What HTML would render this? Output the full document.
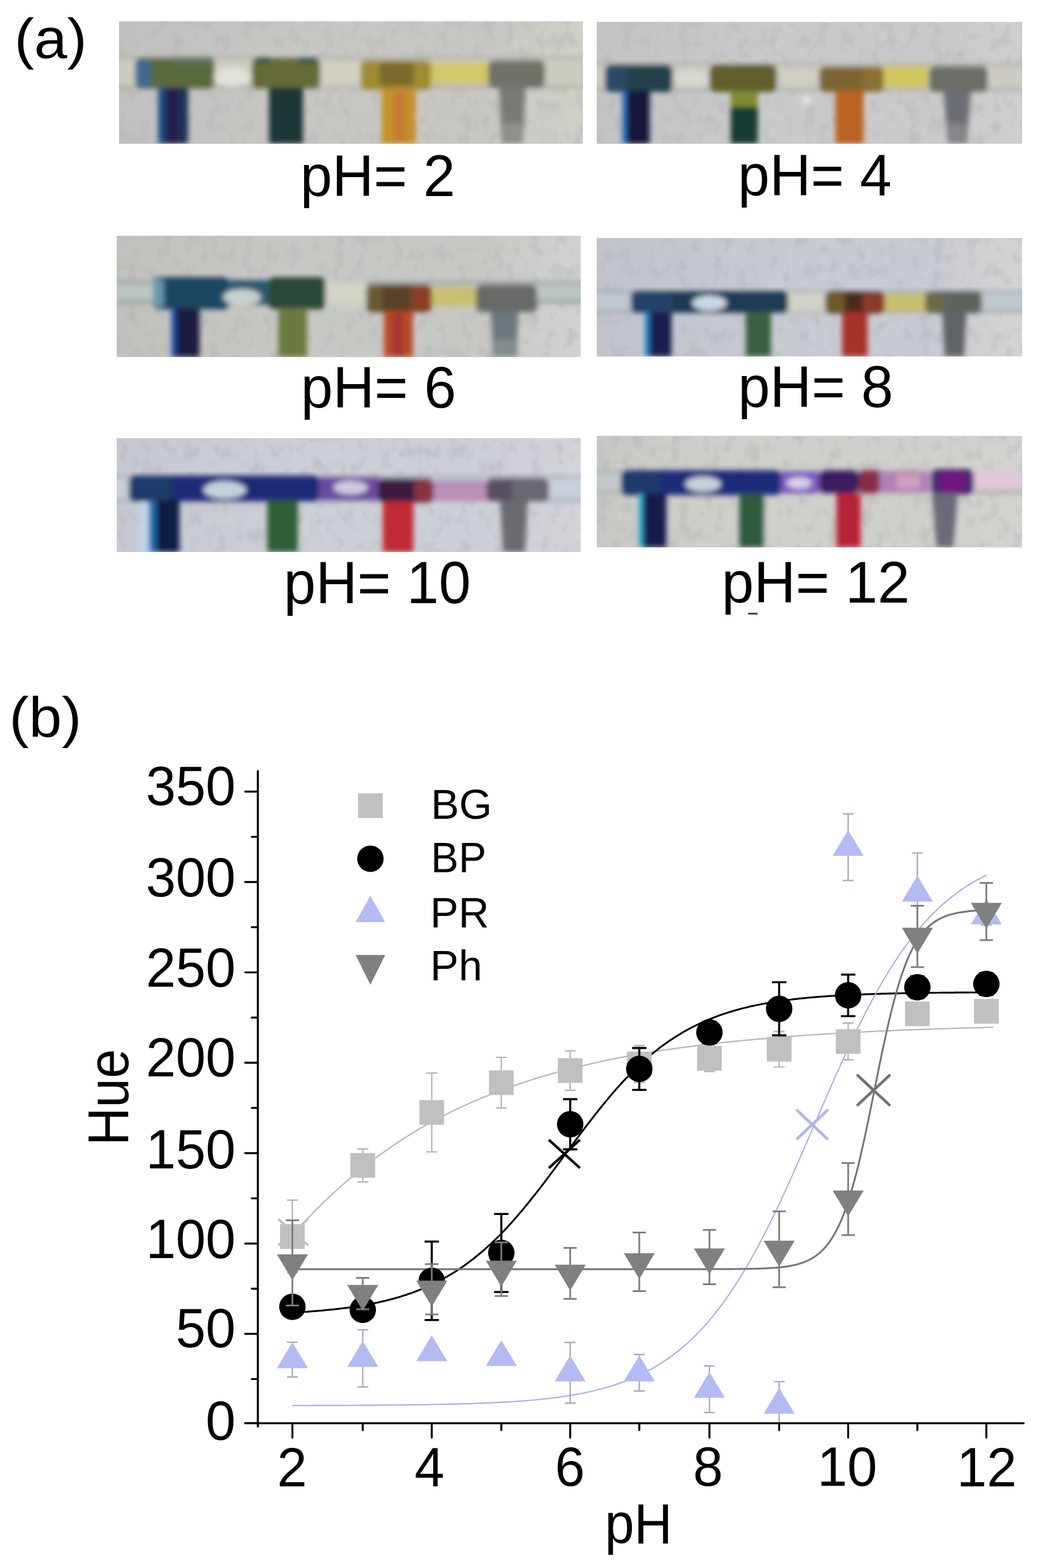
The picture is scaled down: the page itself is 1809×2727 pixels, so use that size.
<!DOCTYPE html>
<html><head><meta charset="utf-8"><title>Hue vs pH</title>
<style>html,body{margin:0;padding:0;background:#fff;}body{width:1809px;height:2727px;overflow:hidden;}svg{display:block;}</style>
</head><body>
<svg width="1809" height="2727" viewBox="0 0 1809 2727">
<defs>
<filter id="blur" x="-5%" y="-5%" width="110%" height="110%"><feGaussianBlur stdDeviation="5"/></filter>
<filter id="noise" x="0" y="0" width="100%" height="100%">
 <feTurbulence type="fractalNoise" baseFrequency="0.05 0.035" numOctaves="3" seed="11" result="t"/>
 <feColorMatrix in="t" type="matrix" values="0 0 0 0 0.42  0 0 0 0 0.42  0 0 0 0 0.44  3.2 0 0 0 -1.55"/>
 <feGaussianBlur stdDeviation="1.2"/>
</filter>
</defs>
<rect width="1809" height="2727" fill="#fff"/>
<clipPath id="pc0"><rect x="207" y="37" width="807" height="213"/></clipPath>
<g clip-path="url(#pc0)">
<linearGradient id="bgg0" x1="0" x2="1" y1="0" y2="0"><stop offset="0" stop-color="#c1c0bf"/><stop offset="0.4" stop-color="#c9c7c3"/><stop offset="0.8" stop-color="#c9c7c3"/><stop offset="1" stop-color="#cfd0c8"/></linearGradient>
<rect x="207" y="37" width="807" height="213" fill="url(#bgg0)"/>
<rect x="207" y="37" width="807" height="213" filter="url(#noise)" opacity="0.35"/>
<g filter="url(#blur)">
<rect x="197" y="101" width="827" height="50" fill="#ccccc2"/>
<rect x="197" y="99" width="827" height="4" fill="#a4a49a" opacity="0.8"/>
<rect x="197" y="149" width="827" height="4" fill="#a4a49a"/>
<rect x="235" y="101" width="138" height="53" rx="10" fill="#5a6a3c"/>
<rect x="235" y="104" width="27" height="48" rx="8" fill="#3d6a8e"/>
<rect x="300" y="100" width="72" height="12" rx="4" fill="#5a7058"/>
<ellipse cx="404" cy="134" rx="32" ry="17" fill="#e2e1da"/>
<rect x="438" y="101" width="119" height="53" rx="10" fill="#656b38"/>
<rect x="445" y="100" width="25" height="10" rx="3" fill="#35554f"/>
<rect x="520" y="100" width="32" height="10" rx="3" fill="#35554f"/>
<rect x="557" y="110" width="77" height="40" rx="0" fill="#d3d0c2"/>
<rect x="627" y="105" width="123" height="51" rx="10" fill="#a08a30"/>
<rect x="660" y="108" width="60" height="42" rx="8" fill="#7c6a2c"/>
<rect x="750" y="108" width="99" height="38" rx="0" fill="#d2c86a"/>
<rect x="849" y="105" width="99" height="48" rx="10" fill="#70726a"/>
<polygon points="275,152 327,152 327,250 275,250" fill="#1c3252"/>
<rect x="275" y="152" width="10" height="98" rx="0" fill="#1c4f8c"/>
<rect x="292" y="152" width="18" height="98" rx="0" fill="#281f50"/>
<polygon points="468,152 527,152 527,250 468,250" fill="#1a3434"/>
<polygon points="664,154 723,154 723,250 664,250" fill="#c4922a"/>
<rect x="685" y="160" width="20" height="85" rx="0" fill="#c47a30"/>
<polygon points="868,152 914,152 909,250 873,250" fill="#787a76"/>
<rect x="874" y="215" width="34" height="35" rx="0" fill="#8e908c"/>
</g></g>
<clipPath id="pc1"><rect x="1038" y="38" width="740" height="212"/></clipPath>
<g clip-path="url(#pc1)">
<linearGradient id="bgg1" x1="0" x2="1" y1="0" y2="0"><stop offset="0" stop-color="#c4c3c6"/><stop offset="0.4" stop-color="#cacacd"/><stop offset="0.8" stop-color="#cacacd"/><stop offset="1" stop-color="#cfcfcf"/></linearGradient>
<rect x="1038" y="38" width="740" height="212" fill="url(#bgg1)"/>
<rect x="1038" y="38" width="740" height="212" filter="url(#noise)" opacity="0.35"/>
<g filter="url(#blur)">
<rect x="1028" y="112" width="760" height="44" fill="#cdcbc4"/>
<rect x="1028" y="110" width="760" height="4" fill="#a8a69c" opacity="0.8"/>
<rect x="1028" y="154" width="760" height="4" fill="#a8a69c"/>
<rect x="1052" y="113" width="118" height="47" rx="10" fill="#223f48"/>
<rect x="1052" y="116" width="38" height="42" rx="8" fill="#2a4a66"/>
<ellipse cx="1202" cy="137" rx="30" ry="15" fill="#d8d8d0"/>
<rect x="1234" y="113" width="117" height="47" rx="10" fill="#625d2a"/>
<ellipse cx="1387" cy="137" rx="31" ry="15" fill="#d0cfc0"/>
<ellipse cx="1403" cy="174" rx="8" ry="7" fill="#e8e8e4"/>
<rect x="1425" y="116" width="112" height="44" rx="10" fill="#7a6530"/>
<rect x="1500" y="116" width="37" height="44" rx="8" fill="#8a7030"/>
<rect x="1537" y="115" width="77" height="37" rx="0" fill="#cfc660"/>
<rect x="1616" y="115" width="102" height="45" rx="10" fill="#6c6e68"/>
<polygon points="1082,158 1130,158 1130,250 1082,250" fill="#15183a"/>
<rect x="1082" y="158" width="8" height="92" rx="0" fill="#2a70c0"/>
<polygon points="1271,158 1318,158 1318,250 1271,250" fill="#173a32"/>
<rect x="1271" y="158" width="47" height="28" rx="0" fill="#7e8a32"/>
<polygon points="1453,158 1502,158 1502,250 1453,250" fill="#bb6420"/>
<polygon points="1641,158 1689,158 1681,250 1649,250" fill="#6c6e74"/>
<rect x="1650" y="215" width="30" height="35" rx="0" fill="#84868a"/>
</g></g>
<clipPath id="pc2"><rect x="203" y="410" width="807" height="211"/></clipPath>
<g clip-path="url(#pc2)">
<linearGradient id="bgg2" x1="0" x2="1" y1="0" y2="0"><stop offset="0" stop-color="#c0c0bc"/><stop offset="0.4" stop-color="#c8c9c5"/><stop offset="0.8" stop-color="#c8c9c5"/><stop offset="1" stop-color="#d0d3d0"/></linearGradient>
<rect x="203" y="410" width="807" height="211" fill="url(#bgg2)"/>
<rect x="203" y="410" width="807" height="211" filter="url(#noise)" opacity="0.35"/>
<g filter="url(#blur)">
<rect x="193" y="491" width="827" height="34" fill="#bcc4c4"/>
<rect x="193" y="489" width="827" height="4" fill="#8c908a" opacity="0.8"/>
<rect x="193" y="523" width="827" height="4" fill="#8c908a"/>
<rect x="266" y="482" width="133" height="56" rx="10" fill="#1e4660"/>
<rect x="266" y="486" width="19" height="48" rx="6" fill="#6a98b0"/>
<rect x="395" y="487" width="73" height="43" rx="0" fill="#2a5a70"/>
<ellipse cx="421" cy="517" rx="33" ry="14" fill="#c8d0d0"/>
<rect x="467" y="482" width="99" height="56" rx="10" fill="#2a4a38"/>
<rect x="566" y="490" width="71" height="40" rx="0" fill="#d2d4c8"/>
<rect x="637" y="495" width="114" height="48" rx="10" fill="#5a4028"/>
<rect x="637" y="497" width="28" height="44" rx="8" fill="#6a5a30"/>
<rect x="715" y="497" width="36" height="44" rx="8" fill="#8a4028"/>
<rect x="751" y="498" width="77" height="34" rx="0" fill="#c8c070"/>
<rect x="828" y="495" width="106" height="48" rx="10" fill="#676a68"/>
<polygon points="298,536 347,536 347,621 298,621" fill="#1c1a40"/>
<rect x="298" y="536" width="8" height="85" rx="0" fill="#2050b0"/>
<polygon points="484,536 534,536 534,621 484,621" fill="#6a7a40"/>
<polygon points="668,541 718,541 718,621 668,621" fill="#b84828"/>
<rect x="685" y="545" width="15" height="76" rx="0" fill="#a03030"/>
<polygon points="854,541 902,541 898,621 858,621" fill="#6c767c"/>
<rect x="860" y="590" width="36" height="31" rx="0" fill="#848c90"/>
</g></g>
<clipPath id="pc3"><rect x="1038" y="414" width="740" height="206"/></clipPath>
<g clip-path="url(#pc3)">
<linearGradient id="bgg3" x1="0" x2="1" y1="0" y2="0"><stop offset="0" stop-color="#c2c4cc"/><stop offset="0.4" stop-color="#c9cbd3"/><stop offset="0.8" stop-color="#c9cbd3"/><stop offset="1" stop-color="#d4d6d4"/></linearGradient>
<rect x="1038" y="414" width="740" height="206" fill="url(#bgg3)"/>
<rect x="1038" y="414" width="740" height="206" filter="url(#noise)" opacity="0.35"/>
<g filter="url(#blur)">
<rect x="1028" y="507" width="760" height="35" fill="#c0c8d0"/>
<rect x="1028" y="505" width="760" height="4" fill="#9a9ea4" opacity="0.8"/>
<rect x="1028" y="540" width="760" height="4" fill="#9a9ea4"/>
<rect x="1097" y="506" width="274" height="38" rx="10" fill="#1a3a55"/>
<rect x="1097" y="506" width="73" height="38" rx="10" fill="#22436a"/>
<ellipse cx="1234" cy="527" rx="30" ry="13" fill="#c8d8e4"/>
<rect x="1371" y="508" width="64" height="34" rx="0" fill="#d2d2c6"/>
<rect x="1435" y="507" width="104" height="38" rx="10" fill="#4a2a1a"/>
<rect x="1435" y="509" width="35" height="34" rx="8" fill="#6a5a2a"/>
<rect x="1500" y="509" width="39" height="34" rx="8" fill="#8a3a2a"/>
<rect x="1539" y="510" width="70" height="32" rx="0" fill="#c8c070"/>
<rect x="1609" y="507" width="99" height="38" rx="10" fill="#5e6460"/>
<rect x="1609" y="509" width="31" height="34" rx="8" fill="#6a6a48"/>
<polygon points="1122,543 1168,543 1168,620 1122,620" fill="#1a1a50"/>
<rect x="1122" y="543" width="8" height="77" rx="0" fill="#2080c0"/>
<polygon points="1297,543 1341,543 1341,620 1297,620" fill="#3a6040"/>
<polygon points="1465,543 1509,543 1509,620 1465,620" fill="#a8302a"/>
<polygon points="1639,543 1681,543 1677,620 1643,620" fill="#606468"/>
</g></g>
<clipPath id="pc4"><rect x="203" y="762" width="807" height="198"/></clipPath>
<g clip-path="url(#pc4)">
<linearGradient id="bgg4" x1="0" x2="1" y1="0" y2="0"><stop offset="0" stop-color="#c6c9d2"/><stop offset="0.4" stop-color="#cdcfd7"/><stop offset="0.8" stop-color="#cdcfd7"/><stop offset="1" stop-color="#d4d4da"/></linearGradient>
<rect x="203" y="762" width="807" height="198" fill="url(#bgg4)"/>
<rect x="203" y="762" width="807" height="198" filter="url(#noise)" opacity="0.35"/>
<g filter="url(#blur)">
<rect x="193" y="829" width="827" height="41" fill="#c8d0da"/>
<rect x="193" y="827" width="827" height="4" fill="#9ea2aa" opacity="0.8"/>
<rect x="193" y="868" width="827" height="4" fill="#9ea2aa"/>
<rect x="224" y="827" width="332" height="45" rx="10" fill="#1a2a78"/>
<rect x="224" y="829" width="76" height="41" rx="10" fill="#1a3a6a"/>
<ellipse cx="391" cy="852" rx="37" ry="15" fill="#c8d0e0"/>
<rect x="555" y="830" width="106" height="40" rx="0" fill="#6a4aa0"/>
<ellipse cx="610" cy="848" rx="30" ry="12" fill="#d0c8e0"/>
<rect x="658" y="832" width="96" height="42" rx="10" fill="#3a1a40"/>
<rect x="720" y="834" width="34" height="38" rx="8" fill="#8a3040"/>
<rect x="754" y="835" width="92" height="36" rx="0" fill="#b890b8"/>
<rect x="846" y="832" width="109" height="40" rx="10" fill="#5a5060"/>
<rect x="890" y="834" width="65" height="36" rx="8" fill="#6a6870"/>
<polygon points="259,870 312,870 312,960 259,960" fill="#101a40"/>
<rect x="259" y="870" width="13" height="90" rx="0" fill="#1a6ab0"/>
<rect x="242" y="875" width="16" height="85" rx="0" fill="#c2d4ea"/>
<polygon points="465,870 518,870 518,960 465,960" fill="#2e5e34"/>
<polygon points="666,872 719,872 719,960 666,960" fill="#c02c30"/>
<polygon points="870,870 918,870 913,960 875,960" fill="#6a6a70"/>
</g></g>
<clipPath id="pc5"><rect x="1038" y="758" width="740" height="194"/></clipPath>
<g clip-path="url(#pc5)">
<linearGradient id="bgg5" x1="0" x2="1" y1="0" y2="0"><stop offset="0" stop-color="#c9c9c6"/><stop offset="0.4" stop-color="#cfcfcb"/><stop offset="0.8" stop-color="#cfcfcb"/><stop offset="1" stop-color="#d4d4d0"/></linearGradient>
<rect x="1038" y="758" width="740" height="194" fill="url(#bgg5)"/>
<rect x="1038" y="758" width="740" height="194" filter="url(#noise)" opacity="0.35"/>
<g filter="url(#blur)">
<rect x="1028" y="821" width="760" height="35" fill="#c4cacc"/>
<rect x="1028" y="819" width="760" height="4" fill="#a0a4a4" opacity="0.8"/>
<rect x="1028" y="854" width="760" height="4" fill="#a0a4a4"/>
<rect x="1080" y="818" width="279" height="43" rx="10" fill="#1a2a7a"/>
<rect x="1080" y="820" width="70" height="39" rx="10" fill="#1a3a6a"/>
<ellipse cx="1223" cy="842" rx="31" ry="13" fill="#c8d0d8"/>
<rect x="1358" y="820" width="67" height="38" rx="0" fill="#7a58c0"/>
<ellipse cx="1390" cy="840" rx="22" ry="10" fill="#d8d0e8"/>
<rect x="1425" y="818" width="69" height="40" rx="10" fill="#3a1a60"/>
<rect x="1494" y="818" width="36" height="40" rx="6" fill="#8a2a4a"/>
<rect x="1530" y="820" width="87" height="36" rx="0" fill="#b080b8"/>
<rect x="1560" y="826" width="40" height="24" rx="0" fill="#d0a0c0"/>
<rect x="1619" y="816" width="75" height="44" rx="12" fill="#4a2a70"/>
<ellipse cx="1656" cy="838" rx="26" ry="19" fill="#701880"/>
<rect x="1694" y="817" width="84" height="33" rx="0" fill="#e0c8d8"/>
<polygon points="1112,858 1159,858 1159,952 1112,952" fill="#121a48"/>
<rect x="1112" y="858" width="7" height="94" rx="0" fill="#20a0c8"/>
<polygon points="1286,858 1328,858 1328,952 1286,952" fill="#2e5a3e"/>
<polygon points="1455,858 1497,858 1497,952 1455,952" fill="#b82434"/>
<polygon points="1621,858 1666,858 1658,952 1629,952" fill="#6a6a78"/>
</g></g>
<text font-family="Liberation Sans, Arial, sans-serif" font-size="102.33" transform="translate(522.16,340.60) scale(0.9771,1)" >pH= 2</text>
<text font-family="Liberation Sans, Arial, sans-serif" font-size="101.60" transform="translate(1283.61,340.40) scale(0.9757,1)" >pH= 4</text>
<text font-family="Liberation Sans, Arial, sans-serif" font-size="102.91" transform="translate(523.14,708.70) scale(0.9740,1)" >pH= 6</text>
<text font-family="Liberation Sans, Arial, sans-serif" font-size="102.04" transform="translate(1283.65,708.40) scale(0.9814,1)" >pH= 8</text>
<text font-family="Liberation Sans, Arial, sans-serif" font-size="103.20" transform="translate(493.55,1049.00) scale(0.9693,1)" >pH= 10</text>
<text font-family="Liberation Sans, Arial, sans-serif" font-size="102.47" transform="translate(1255.32,1048.40) scale(0.9819,1)" >pH= 12</text>
<text font-family="Liberation Sans, Arial, sans-serif" font-size="97.89" transform="translate(24.89,100.53) scale(1.0558,1)" >(a)</text>
<rect x="1301" y="1065.8" width="17" height="3" rx="1.5" fill="#333"/>
<text font-family="Liberation Sans, Arial, sans-serif" font-size="98.54" transform="translate(15.91,1281.00) scale(1.0461,1)" >(b)</text>
<polyline points="508.6,2148.4 511.7,2144.8 514.8,2141.4 517.9,2137.9 521.0,2134.5 524.1,2131.1 527.2,2127.7 530.3,2124.4 533.4,2121.1 536.5,2117.8 539.6,2114.5 542.7,2111.3 545.8,2108.1 548.9,2105.0 552.0,2101.9 555.1,2098.8 558.2,2095.7 561.3,2092.7 564.4,2089.7 567.5,2086.7 570.6,2083.7 573.7,2080.8 576.8,2077.9 579.9,2075.0 583.0,2072.2 586.1,2069.4 589.2,2066.6 592.3,2063.8 595.4,2061.1 598.5,2058.4 601.6,2055.7 604.6,2053.1 607.7,2050.4 610.8,2047.8 613.9,2045.2 617.0,2042.7 620.1,2040.1 623.2,2037.6 626.3,2035.1 629.4,2032.7 632.5,2030.2 635.5,2027.8 638.6,2025.4 641.6,2023.1 644.7,2020.7 647.7,2018.4 650.7,2016.1 653.8,2013.8 656.8,2011.5 659.8,2009.3 662.9,2007.1 665.9,2004.9 669.0,2002.7 672.0,2000.5 675.0,1998.4 678.1,1996.3 681.1,1994.2 684.1,1992.1 687.2,1990.1 690.2,1988.0 693.3,1986.0 696.3,1984.0 699.3,1982.0 702.4,1980.1 705.4,1978.1 708.4,1976.2 711.5,1974.3 714.5,1972.4 717.6,1970.6 720.6,1968.7 723.6,1966.9 726.7,1965.1 729.7,1963.3 732.7,1961.5 735.8,1959.7 738.8,1958.0 741.9,1956.3 744.9,1954.5 747.9,1952.9 751.0,1951.2 754.0,1949.5 757.1,1947.9 760.2,1946.2 763.2,1944.6 766.3,1943.0 769.3,1941.4 772.4,1939.9 775.5,1938.3 778.5,1936.8 781.6,1935.2 784.7,1933.7 787.7,1932.2 790.8,1930.7 793.9,1929.3 796.9,1927.8 800.0,1926.4 803.0,1925.0 806.1,1923.5 809.2,1922.1 812.2,1920.8 815.3,1919.4 818.4,1918.0 821.4,1916.7 824.5,1915.3 827.5,1914.0 830.6,1912.7 833.7,1911.4 836.7,1910.1 839.8,1908.9 842.9,1907.6 845.9,1906.4 849.0,1905.1 852.0,1903.9 855.1,1902.7 858.2,1901.5 861.2,1900.3 864.3,1899.1 867.4,1898.0 870.4,1896.8 873.5,1895.7 876.5,1894.6 879.5,1893.4 882.6,1892.3 885.6,1891.2 888.6,1890.1 891.7,1889.1 894.7,1888.0 897.7,1886.9 900.8,1885.9 903.8,1884.9 906.8,1883.8 909.9,1882.8 912.9,1881.8 915.9,1880.8 919.0,1879.8 922.0,1878.8 925.0,1877.9 928.1,1876.9 931.1,1876.0 934.1,1875.0 937.2,1874.1 940.2,1873.2 943.2,1872.3 946.3,1871.3 949.3,1870.5 952.3,1869.6 955.3,1868.7 958.4,1867.8 961.4,1867.0 964.4,1866.1 967.5,1865.3 970.5,1864.4 973.5,1863.6 976.6,1862.8 979.6,1862.0 982.6,1861.1 985.7,1860.3 988.7,1859.6 991.7,1858.8 994.8,1858.0 997.8,1857.2 1000.9,1856.5 1003.9,1855.7 1007.0,1855.0 1010.0,1854.2 1013.0,1853.5 1016.1,1852.8 1019.1,1852.1 1022.2,1851.4 1025.2,1850.7 1028.3,1850.0 1031.3,1849.3 1034.3,1848.6 1037.4,1847.9 1040.4,1847.2 1043.5,1846.6 1046.5,1845.9 1049.6,1845.3 1052.6,1844.6 1055.6,1844.0 1058.7,1843.4 1061.7,1842.7 1064.8,1842.1 1067.8,1841.5 1070.8,1840.9 1073.9,1840.3 1076.9,1839.7 1080.0,1839.1 1083.0,1838.5 1086.1,1837.9 1089.1,1837.4 1092.1,1836.8 1095.2,1836.2 1098.2,1835.7 1101.3,1835.1 1104.3,1834.6 1107.4,1834.0 1110.4,1833.5 1113.5,1833.0 1116.6,1832.5 1119.6,1831.9 1122.7,1831.4 1125.8,1830.9 1128.9,1830.4 1132.0,1829.9 1135.1,1829.4 1138.2,1828.9 1141.3,1828.4 1144.3,1828.0 1147.4,1827.5 1150.5,1827.0 1153.6,1826.5 1156.7,1826.1 1159.8,1825.6 1162.9,1825.2 1166.0,1824.7 1169.1,1824.3 1172.1,1823.8 1175.2,1823.4 1178.3,1823.0 1181.4,1822.5 1184.5,1822.1 1187.6,1821.7 1190.7,1821.3 1193.8,1820.9 1196.8,1820.5 1199.9,1820.1 1203.0,1819.7 1206.1,1819.3 1209.2,1818.9 1212.3,1818.5 1215.4,1818.1 1218.5,1817.7 1221.6,1817.3 1224.6,1817.0 1227.7,1816.6 1230.8,1816.2 1233.9,1815.9 1237.0,1815.5 1240.0,1815.2 1243.1,1814.8 1246.2,1814.5 1249.3,1814.1 1252.3,1813.8 1255.4,1813.4 1258.5,1813.1 1261.5,1812.8 1264.6,1812.4 1267.7,1812.1 1270.8,1811.8 1273.8,1811.5 1276.9,1811.2 1280.0,1810.8 1283.0,1810.5 1286.1,1810.2 1289.2,1809.9 1292.2,1809.6 1295.3,1809.3 1298.4,1809.0 1301.5,1808.7 1304.5,1808.5 1307.6,1808.2 1310.7,1807.9 1313.7,1807.6 1316.8,1807.3 1319.9,1807.0 1323.0,1806.8 1326.0,1806.5 1329.1,1806.2 1332.2,1806.0 1335.2,1805.7 1338.3,1805.5 1341.4,1805.2 1344.4,1804.9 1347.5,1804.7 1350.6,1804.4 1353.7,1804.2 1356.7,1803.9 1359.8,1803.7 1362.8,1803.5 1365.8,1803.2 1368.9,1803.0 1371.9,1802.8 1374.9,1802.5 1378.0,1802.3 1381.0,1802.1 1384.1,1801.8 1387.1,1801.6 1390.1,1801.4 1393.2,1801.2 1396.2,1801.0 1399.2,1800.8 1402.3,1800.5 1405.3,1800.3 1408.4,1800.1 1411.4,1799.9 1414.4,1799.7 1417.5,1799.5 1420.5,1799.3 1423.5,1799.1 1426.6,1798.9 1429.6,1798.7 1432.7,1798.5 1435.7,1798.4 1438.7,1798.2 1441.8,1798.0 1444.8,1797.8 1447.8,1797.6 1450.9,1797.4 1453.9,1797.2 1457.0,1797.1 1460.0,1796.9 1463.0,1796.7 1466.1,1796.5 1469.1,1796.4 1472.1,1796.2 1475.2,1796.0 1478.2,1795.9 1481.3,1795.7 1484.3,1795.6 1487.4,1795.4 1490.4,1795.2 1493.5,1795.1 1496.5,1794.9 1499.6,1794.8 1502.6,1794.6 1505.7,1794.5 1508.7,1794.3 1511.8,1794.2 1514.8,1794.0 1517.8,1793.9 1520.9,1793.7 1523.9,1793.6 1527.0,1793.4 1530.0,1793.3 1533.1,1793.2 1536.1,1793.0 1539.2,1792.9 1542.2,1792.8 1545.3,1792.6 1548.3,1792.5 1551.4,1792.4 1554.4,1792.2 1557.5,1792.1 1560.5,1792.0 1563.6,1791.8 1566.6,1791.7 1569.7,1791.6 1572.7,1791.5 1575.8,1791.4 1578.8,1791.2 1581.8,1791.1 1584.9,1791.0 1587.9,1790.9 1591.0,1790.8 1594.0,1790.6 1597.1,1790.5 1600.1,1790.4 1603.2,1790.3 1606.2,1790.2 1609.2,1790.1 1612.3,1790.0 1615.3,1789.9 1618.3,1789.8 1621.4,1789.7 1624.4,1789.6 1627.5,1789.5 1630.5,1789.4 1633.5,1789.3 1636.6,1789.2 1639.6,1789.1 1642.6,1789.0 1645.7,1788.9 1648.7,1788.8 1651.8,1788.7 1654.8,1788.6 1657.8,1788.5 1660.9,1788.4 1663.9,1788.3 1666.9,1788.2 1670.0,1788.1 1673.0,1788.0 1676.1,1788.0 1679.1,1787.9 1682.1,1787.8 1685.2,1787.7 1688.2,1787.6 1691.2,1787.5 1694.3,1787.4 1697.3,1787.4 1700.4,1787.3 1703.4,1787.2 1706.4,1787.1 1709.5,1787.0 1712.5,1787.0 1715.5,1786.9 1718.6,1786.8 1721.7,1786.7 1724.7,1786.7 1727.8,1786.6" fill="none" stroke="#b8b8b8" stroke-width="2.4" stroke-linejoin="round"/>
<polyline points="508.6,2282.8 511.7,2282.6 514.7,2282.4 517.8,2282.3 520.9,2282.1 523.9,2281.9 527.0,2281.7 530.1,2281.5 533.1,2281.3 536.2,2281.1 539.3,2280.8 542.3,2280.6 545.4,2280.4 548.5,2280.1 551.5,2279.9 554.6,2279.6 557.7,2279.4 560.8,2279.1 563.8,2278.8 566.9,2278.5 570.0,2278.2 573.0,2277.9 576.1,2277.6 579.2,2277.3 582.2,2277.0 585.3,2276.6 588.4,2276.3 591.4,2275.9 594.5,2275.5 597.6,2275.2 600.6,2274.8 603.7,2274.4 606.8,2274.0 609.8,2273.5 612.9,2273.1 616.0,2272.7 619.0,2272.2 622.1,2271.7 625.2,2271.2 628.2,2270.7 631.3,2270.2 634.3,2269.7 637.3,2269.2 640.3,2268.6 643.3,2268.0 646.3,2267.5 649.3,2266.9 652.4,2266.2 655.4,2265.6 658.4,2265.0 661.4,2264.3 664.4,2263.6 667.4,2262.9 670.4,2262.2 673.4,2261.4 676.4,2260.7 679.4,2259.9 682.4,2259.1 685.4,2258.3 688.4,2257.4 691.5,2256.5 694.5,2255.7 697.5,2254.7 700.5,2253.8 703.5,2252.8 706.5,2251.9 709.5,2250.8 712.5,2249.8 715.5,2248.7 718.5,2247.7 721.5,2246.5 724.5,2245.4 727.5,2244.2 730.5,2243.0 733.6,2241.8 736.6,2240.5 739.6,2239.2 742.6,2237.9 745.6,2236.6 748.6,2235.2 751.6,2233.8 754.6,2232.3 757.7,2230.8 760.7,2229.3 763.7,2227.7 766.8,2226.1 769.8,2224.5 772.8,2222.9 775.9,2221.2 778.9,2219.4 781.9,2217.6 785.0,2215.8 788.0,2214.0 791.0,2212.1 794.1,2210.1 797.1,2208.1 800.1,2206.1 803.2,2204.1 806.2,2202.0 809.2,2199.8 812.3,2197.6 815.3,2195.4 818.3,2193.1 821.4,2190.8 824.4,2188.4 827.4,2186.0 830.5,2183.6 833.5,2181.1 836.5,2178.5 839.6,2175.9 842.6,2173.3 845.6,2170.6 848.6,2167.9 851.7,2165.1 854.7,2162.3 857.7,2159.5 860.8,2156.5 863.8,2153.6 866.8,2150.6 869.9,2147.6 872.9,2144.5 875.9,2141.3 878.9,2138.2 881.9,2135.0 884.9,2131.7 887.9,2128.4 890.9,2125.1 893.9,2121.7 896.9,2118.3 899.9,2114.8 902.9,2111.3 905.9,2107.8 908.9,2104.2 911.9,2100.6 914.9,2096.9 917.9,2093.3 920.9,2089.6 923.9,2085.8 926.9,2082.0 929.9,2078.2 933.0,2074.4 936.0,2070.5 939.0,2066.7 942.0,2062.8 945.0,2058.8 948.0,2054.9 951.0,2050.9 954.0,2046.9 957.0,2042.9 960.0,2038.9 963.0,2034.9 966.0,2030.8 969.0,2026.8 972.0,2022.7 975.0,2018.7 978.0,2014.6 981.0,2010.5 984.0,2006.4 987.0,2002.4 990.0,1998.3 993.0,1994.2 996.0,1990.2 999.0,1986.1 1002.0,1982.0 1005.1,1978.0 1008.1,1974.0 1011.1,1970.0 1014.1,1966.0 1017.1,1962.0 1020.1,1958.0 1023.1,1954.1 1026.1,1950.2 1029.2,1946.3 1032.2,1942.4 1035.2,1938.5 1038.2,1934.7 1041.2,1930.9 1044.2,1927.2 1047.2,1923.4 1050.2,1919.7 1053.3,1916.1 1056.3,1912.4 1059.3,1908.8 1062.3,1905.3 1065.3,1901.7 1068.3,1898.3 1071.3,1894.8 1074.3,1891.4 1077.4,1888.0 1080.4,1884.7 1083.4,1881.4 1086.4,1878.2 1089.4,1875.0 1092.4,1871.8 1095.4,1868.7 1098.4,1865.6 1101.5,1862.6 1104.5,1859.6 1107.5,1856.7 1110.5,1853.8 1113.5,1850.9 1116.6,1848.1 1119.6,1845.4 1122.7,1842.7 1125.8,1840.0 1128.8,1837.4 1131.9,1834.8 1134.9,1832.3 1138.0,1829.8 1141.0,1827.4 1144.1,1825.0 1147.2,1822.6 1150.2,1820.3 1153.3,1818.0 1156.3,1815.8 1159.4,1813.7 1162.5,1811.5 1165.5,1809.4 1168.6,1807.4 1171.6,1805.4 1174.7,1803.4 1177.7,1801.5 1180.8,1799.6 1183.9,1797.8 1186.9,1795.9 1190.0,1794.2 1193.0,1792.4 1196.1,1790.8 1199.1,1789.1 1202.2,1787.5 1205.3,1785.9 1208.3,1784.4 1211.4,1782.8 1214.4,1781.4 1217.5,1779.9 1220.5,1778.5 1223.6,1777.1 1226.7,1775.8 1229.7,1774.5 1232.8,1773.2 1235.8,1771.9 1238.9,1770.7 1241.9,1769.5 1244.9,1768.4 1248.0,1767.2 1251.0,1766.1 1254.1,1765.0 1257.1,1764.0 1260.1,1763.0 1263.2,1762.0 1266.2,1761.0 1269.3,1760.0 1272.3,1759.1 1275.3,1758.2 1278.4,1757.3 1281.4,1756.5 1284.5,1755.6 1287.5,1754.8 1290.5,1754.0 1293.6,1753.2 1296.6,1752.5 1299.7,1751.7 1302.7,1751.0 1305.7,1750.3 1308.8,1749.6 1311.8,1749.0 1314.9,1748.3 1317.9,1747.7 1320.9,1747.1 1324.0,1746.5 1327.0,1745.9 1330.1,1745.3 1333.1,1744.8 1336.1,1744.3 1339.2,1743.7 1342.2,1743.2 1345.3,1742.7 1348.3,1742.3 1351.3,1741.8 1354.4,1741.3 1357.4,1740.9 1360.4,1740.5 1363.4,1740.0 1366.4,1739.6 1369.4,1739.2 1372.4,1738.8 1375.5,1738.5 1378.5,1738.1 1381.5,1737.7 1384.5,1737.4 1387.5,1737.1 1390.5,1736.7 1393.5,1736.4 1396.5,1736.1 1399.5,1735.8 1402.5,1735.5 1405.5,1735.2 1408.5,1735.0 1411.5,1734.7 1414.5,1734.4 1417.6,1734.2 1420.6,1733.9 1423.6,1733.7 1426.6,1733.5 1429.6,1733.2 1432.6,1733.0 1435.6,1732.8 1438.6,1732.6 1441.6,1732.4 1444.6,1732.2 1447.6,1732.0 1450.6,1731.8 1453.6,1731.6 1456.7,1731.4 1459.7,1731.3 1462.7,1731.1 1465.7,1730.9 1468.7,1730.8 1471.7,1730.6 1474.7,1730.5 1477.7,1730.3 1480.7,1730.2 1483.7,1730.1 1486.8,1729.9 1489.8,1729.8 1492.8,1729.7 1495.8,1729.6 1498.8,1729.4 1501.9,1729.3 1504.9,1729.2 1507.9,1729.1 1510.9,1729.0 1513.9,1728.9 1516.9,1728.8 1520.0,1728.7 1523.0,1728.6 1526.0,1728.5 1529.0,1728.4 1532.0,1728.3 1535.0,1728.2 1538.1,1728.2 1541.1,1728.1 1544.1,1728.0 1547.1,1727.9 1550.1,1727.9 1553.2,1727.8 1556.2,1727.7 1559.2,1727.7 1562.2,1727.6 1565.2,1727.5 1568.2,1727.5 1571.3,1727.4 1574.3,1727.3 1577.3,1727.3 1580.3,1727.2 1583.3,1727.2 1586.3,1727.1 1589.4,1727.1 1592.4,1727.0 1595.4,1727.0 1598.4,1726.9 1601.4,1726.9 1604.4,1726.9 1607.4,1726.8 1610.4,1726.8 1613.4,1726.7 1616.5,1726.7 1619.5,1726.7 1622.5,1726.6 1625.5,1726.6 1628.5,1726.5 1631.5,1726.5 1634.5,1726.5 1637.5,1726.4 1640.5,1726.4 1643.5,1726.4 1646.5,1726.4 1649.5,1726.3 1652.5,1726.3 1655.5,1726.3 1658.6,1726.3 1661.6,1726.2 1664.6,1726.2 1667.6,1726.2 1670.6,1726.2 1673.6,1726.1 1676.6,1726.1 1679.6,1726.1 1682.6,1726.1 1685.6,1726.0 1688.6,1726.0 1691.6,1726.0 1694.6,1726.0 1697.7,1726.0 1700.7,1726.0 1703.7,1725.9 1706.7,1725.9 1709.7,1725.9 1712.7,1725.9 1715.7,1725.9" fill="none" stroke="#000" stroke-width="3.2" stroke-linejoin="round"/>
<polyline points="508.6,2444.3 511.7,2444.3 514.7,2444.3 517.8,2444.3 520.9,2444.3 523.9,2444.3 527.0,2444.3 530.1,2444.3 533.1,2444.3 536.2,2444.3 539.3,2444.3 542.3,2444.3 545.4,2444.2 548.5,2444.2 551.5,2444.2 554.6,2444.2 557.7,2444.2 560.8,2444.2 563.8,2444.2 566.9,2444.2 570.0,2444.2 573.0,2444.2 576.1,2444.2 579.2,2444.1 582.2,2444.1 585.3,2444.1 588.4,2444.1 591.4,2444.1 594.5,2444.1 597.6,2444.1 600.6,2444.1 603.7,2444.1 606.8,2444.0 609.8,2444.0 612.9,2444.0 616.0,2444.0 619.0,2444.0 622.1,2444.0 625.2,2444.0 628.2,2443.9 631.3,2443.9 634.3,2443.9 637.3,2443.9 640.3,2443.9 643.3,2443.9 646.3,2443.8 649.3,2443.8 652.4,2443.8 655.4,2443.8 658.4,2443.8 661.4,2443.7 664.4,2443.7 667.4,2443.7 670.4,2443.7 673.4,2443.6 676.4,2443.6 679.4,2443.6 682.4,2443.6 685.4,2443.5 688.4,2443.5 691.5,2443.5 694.5,2443.4 697.5,2443.4 700.5,2443.4 703.5,2443.3 706.5,2443.3 709.5,2443.3 712.5,2443.2 715.5,2443.2 718.5,2443.2 721.5,2443.1 724.5,2443.1 727.5,2443.0 730.5,2443.0 733.6,2443.0 736.6,2442.9 739.6,2442.9 742.6,2442.8 745.6,2442.8 748.6,2442.7 751.6,2442.7 754.6,2442.6 757.7,2442.6 760.7,2442.5 763.7,2442.5 766.8,2442.4 769.8,2442.3 772.8,2442.3 775.9,2442.2 778.9,2442.1 781.9,2442.1 785.0,2442.0 788.0,2441.9 791.0,2441.9 794.1,2441.8 797.1,2441.7 800.1,2441.6 803.2,2441.5 806.2,2441.4 809.2,2441.4 812.3,2441.3 815.3,2441.2 818.3,2441.1 821.4,2441.0 824.4,2440.9 827.4,2440.8 830.5,2440.7 833.5,2440.6 836.5,2440.4 839.6,2440.3 842.6,2440.2 845.6,2440.1 848.6,2439.9 851.7,2439.8 854.7,2439.7 857.7,2439.5 860.8,2439.4 863.8,2439.2 866.8,2439.1 869.9,2438.9 872.9,2438.8 875.9,2438.6 878.9,2438.4 881.9,2438.3 884.9,2438.1 887.9,2437.9 890.9,2437.7 893.9,2437.5 896.9,2437.3 899.9,2437.1 902.9,2436.9 905.9,2436.7 908.9,2436.5 911.9,2436.2 914.9,2436.0 917.9,2435.7 920.9,2435.5 923.9,2435.2 926.9,2435.0 929.9,2434.7 933.0,2434.4 936.0,2434.1 939.0,2433.8 942.0,2433.5 945.0,2433.2 948.0,2432.9 951.0,2432.5 954.0,2432.2 957.0,2431.9 960.0,2431.5 963.0,2431.1 966.0,2430.7 969.0,2430.3 972.0,2429.9 975.0,2429.5 978.0,2429.1 981.0,2428.7 984.0,2428.2 987.0,2427.7 990.0,2427.3 993.0,2426.8 996.0,2426.3 999.0,2425.7 1002.0,2425.2 1005.1,2424.7 1008.1,2424.1 1011.1,2423.5 1014.1,2422.9 1017.1,2422.3 1020.1,2421.7 1023.1,2421.0 1026.1,2420.4 1029.2,2419.7 1032.2,2419.0 1035.2,2418.3 1038.2,2417.5 1041.2,2416.8 1044.2,2416.0 1047.2,2415.2 1050.2,2414.4 1053.3,2413.5 1056.3,2412.7 1059.3,2411.8 1062.3,2410.8 1065.3,2409.9 1068.3,2408.9 1071.3,2407.9 1074.3,2406.9 1077.4,2405.9 1080.4,2404.8 1083.4,2403.7 1086.4,2402.6 1089.4,2401.4 1092.4,2400.2 1095.4,2399.0 1098.4,2397.7 1101.5,2396.5 1104.5,2395.1 1107.5,2393.8 1110.5,2392.4 1113.5,2390.9 1116.6,2389.5 1119.6,2388.0 1122.7,2386.4 1125.8,2384.9 1128.8,2383.2 1131.9,2381.6 1134.9,2379.9 1138.0,2378.1 1141.0,2376.3 1144.1,2374.5 1147.2,2372.6 1150.2,2370.7 1153.3,2368.7 1156.3,2366.7 1159.4,2364.6 1162.5,2362.5 1165.5,2360.3 1168.6,2358.1 1171.6,2355.8 1174.7,2353.5 1177.7,2351.1 1180.8,2348.7 1183.9,2346.2 1186.9,2343.6 1190.0,2341.0 1193.0,2338.3 1196.1,2335.6 1199.1,2332.8 1202.2,2329.9 1205.3,2327.0 1208.3,2324.0 1211.4,2321.0 1214.4,2317.9 1217.5,2314.7 1220.5,2311.4 1223.6,2308.1 1226.7,2304.7 1229.7,2301.3 1232.8,2297.7 1235.8,2294.1 1238.9,2290.5 1241.9,2286.7 1244.9,2282.9 1248.0,2279.0 1251.0,2275.1 1254.1,2271.0 1257.1,2266.9 1260.1,2262.7 1263.2,2258.4 1266.2,2254.1 1269.3,2249.7 1272.3,2245.2 1275.3,2240.6 1278.4,2236.0 1281.4,2231.2 1284.5,2226.4 1287.5,2221.6 1290.5,2216.6 1293.6,2211.6 1296.6,2206.5 1299.7,2201.3 1302.7,2196.0 1305.7,2190.7 1308.8,2185.3 1311.8,2179.8 1314.9,2174.3 1317.9,2168.7 1320.9,2163.0 1324.0,2157.2 1327.0,2151.4 1330.1,2145.5 1333.1,2139.5 1336.1,2133.5 1339.2,2127.4 1342.2,2121.3 1345.3,2115.1 1348.3,2108.8 1351.3,2102.5 1354.4,2096.1 1357.4,2089.7 1360.4,2083.2 1363.4,2076.6 1366.4,2070.1 1369.4,2063.5 1372.4,2056.8 1375.5,2050.1 1378.5,2043.4 1381.5,2036.6 1384.5,2029.8 1387.5,2023.0 1390.5,2016.1 1393.5,2009.2 1396.5,2002.3 1399.5,1995.4 1402.5,1988.5 1405.5,1981.5 1408.5,1974.5 1411.5,1967.6 1414.5,1960.6 1417.6,1953.6 1420.6,1946.6 1423.6,1939.7 1426.6,1932.7 1429.6,1925.8 1432.6,1918.8 1435.6,1911.9 1438.6,1905.0 1441.6,1898.1 1444.6,1891.2 1447.6,1884.4 1450.6,1877.6 1453.6,1870.8 1456.7,1864.1 1459.7,1857.4 1462.7,1850.7 1465.7,1844.1 1468.7,1837.5 1471.7,1830.9 1474.7,1824.4 1477.7,1818.0 1480.7,1811.6 1483.7,1805.3 1486.8,1799.0 1489.8,1792.8 1492.8,1786.6 1495.8,1780.5 1498.8,1774.5 1501.9,1768.5 1504.9,1762.6 1507.9,1756.8 1510.9,1751.0 1513.9,1745.3 1516.9,1739.6 1520.0,1734.1 1523.0,1728.6 1526.0,1723.2 1529.0,1717.8 1532.0,1712.5 1535.0,1707.3 1538.1,1702.2 1541.1,1697.2 1544.1,1692.2 1547.1,1687.3 1550.1,1682.5 1553.2,1677.7 1556.2,1673.1 1559.2,1668.5 1562.2,1664.0 1565.2,1659.5 1568.2,1655.2 1571.3,1650.9 1574.3,1646.7 1577.3,1642.6 1580.3,1638.5 1583.3,1634.5 1586.3,1630.6 1589.4,1626.8 1592.4,1623.0 1595.4,1619.3 1598.4,1615.7 1601.4,1612.2 1604.4,1608.7 1607.4,1605.3 1610.4,1602.0 1613.4,1598.7 1616.5,1595.5 1619.5,1592.4 1622.5,1589.3 1625.5,1586.3 1628.5,1583.4 1631.5,1580.5 1634.5,1577.7 1637.5,1575.0 1640.5,1572.3 1643.5,1569.6 1646.5,1567.1 1649.5,1564.6 1652.5,1562.1 1655.5,1559.7 1658.6,1557.4 1661.6,1555.1 1664.6,1552.8 1667.6,1550.7 1670.6,1548.5 1673.6,1546.4 1676.6,1544.4 1679.6,1542.4 1682.6,1540.5 1685.6,1538.6 1688.6,1536.8 1691.6,1535.0 1694.6,1533.2 1697.7,1531.5 1700.7,1529.8 1703.7,1528.2 1706.7,1526.6 1709.7,1525.0 1712.7,1523.5 1715.7,1522.1" fill="none" stroke="#a8aee0" stroke-width="2.2" stroke-linejoin="round"/>
<polyline points="508.6,2207.3 511.7,2207.3 514.7,2207.3 517.8,2207.3 520.9,2207.3 523.9,2207.3 527.0,2207.3 530.1,2207.3 533.1,2207.3 536.2,2207.3 539.3,2207.3 542.3,2207.3 545.4,2207.3 548.5,2207.3 551.5,2207.3 554.6,2207.3 557.7,2207.3 560.8,2207.3 563.8,2207.3 566.9,2207.3 570.0,2207.3 573.0,2207.3 576.1,2207.3 579.2,2207.3 582.2,2207.3 585.3,2207.3 588.4,2207.3 591.4,2207.3 594.5,2207.3 597.6,2207.3 600.6,2207.3 603.7,2207.3 606.8,2207.3 609.8,2207.3 612.9,2207.3 616.0,2207.3 619.0,2207.3 622.1,2207.3 625.2,2207.3 628.2,2207.3 631.3,2207.3 634.3,2207.3 637.3,2207.3 640.3,2207.3 643.3,2207.3 646.3,2207.3 649.3,2207.3 652.4,2207.3 655.4,2207.3 658.4,2207.3 661.4,2207.3 664.4,2207.3 667.4,2207.3 670.4,2207.3 673.4,2207.3 676.4,2207.3 679.4,2207.3 682.4,2207.3 685.4,2207.3 688.4,2207.3 691.5,2207.3 694.5,2207.3 697.5,2207.3 700.5,2207.3 703.5,2207.3 706.5,2207.3 709.5,2207.3 712.5,2207.3 715.5,2207.3 718.5,2207.3 721.5,2207.3 724.5,2207.3 727.5,2207.3 730.5,2207.3 733.6,2207.3 736.6,2207.3 739.6,2207.3 742.6,2207.3 745.6,2207.3 748.6,2207.3 751.6,2207.3 754.6,2207.3 757.7,2207.3 760.7,2207.3 763.7,2207.3 766.8,2207.3 769.8,2207.3 772.8,2207.3 775.9,2207.3 778.9,2207.3 781.9,2207.3 785.0,2207.3 788.0,2207.3 791.0,2207.3 794.1,2207.3 797.1,2207.3 800.1,2207.3 803.2,2207.3 806.2,2207.3 809.2,2207.3 812.3,2207.3 815.3,2207.3 818.3,2207.3 821.4,2207.3 824.4,2207.3 827.4,2207.3 830.5,2207.3 833.5,2207.3 836.5,2207.3 839.6,2207.3 842.6,2207.3 845.6,2207.3 848.6,2207.3 851.7,2207.3 854.7,2207.3 857.7,2207.3 860.8,2207.3 863.8,2207.3 866.8,2207.3 869.9,2207.3 872.9,2207.3 875.9,2207.3 878.9,2207.3 881.9,2207.3 884.9,2207.3 887.9,2207.3 890.9,2207.3 893.9,2207.3 896.9,2207.3 899.9,2207.3 902.9,2207.3 905.9,2207.3 908.9,2207.3 911.9,2207.3 914.9,2207.3 917.9,2207.3 920.9,2207.3 923.9,2207.3 926.9,2207.3 929.9,2207.3 933.0,2207.3 936.0,2207.3 939.0,2207.3 942.0,2207.3 945.0,2207.3 948.0,2207.3 951.0,2207.3 954.0,2207.3 957.0,2207.3 960.0,2207.3 963.0,2207.3 966.0,2207.3 969.0,2207.3 972.0,2207.3 975.0,2207.3 978.0,2207.3 981.0,2207.3 984.0,2207.3 987.0,2207.3 990.0,2207.3 993.0,2207.3 996.0,2207.3 999.0,2207.3 1002.0,2207.3 1005.1,2207.3 1008.1,2207.3 1011.1,2207.3 1014.1,2207.3 1017.1,2207.3 1020.1,2207.3 1023.1,2207.3 1026.1,2207.3 1029.2,2207.3 1032.2,2207.3 1035.2,2207.3 1038.2,2207.3 1041.2,2207.3 1044.2,2207.3 1047.2,2207.3 1050.2,2207.3 1053.3,2207.3 1056.3,2207.3 1059.3,2207.3 1062.3,2207.3 1065.3,2207.3 1068.3,2207.3 1071.3,2207.3 1074.3,2207.3 1077.4,2207.3 1080.4,2207.3 1083.4,2207.3 1086.4,2207.3 1089.4,2207.3 1092.4,2207.3 1095.4,2207.3 1098.4,2207.3 1101.5,2207.3 1104.5,2207.3 1107.5,2207.3 1110.5,2207.3 1113.5,2207.3 1116.6,2207.3 1119.6,2207.3 1122.7,2207.3 1125.8,2207.3 1128.8,2207.3 1131.9,2207.3 1134.9,2207.3 1138.0,2207.3 1141.0,2207.3 1144.1,2207.3 1147.2,2207.3 1150.2,2207.3 1153.3,2207.3 1156.3,2207.3 1159.4,2207.3 1162.5,2207.3 1165.5,2207.3 1168.6,2207.3 1171.6,2207.3 1174.7,2207.3 1177.7,2207.3 1180.8,2207.3 1183.9,2207.3 1186.9,2207.3 1190.0,2207.3 1193.0,2207.3 1196.1,2207.3 1199.1,2207.3 1202.2,2207.3 1205.3,2207.3 1208.3,2207.3 1211.4,2207.3 1214.4,2207.3 1217.5,2207.3 1220.5,2207.3 1223.6,2207.3 1226.7,2207.3 1229.7,2207.3 1232.8,2207.2 1235.8,2207.2 1238.9,2207.2 1241.9,2207.2 1244.9,2207.2 1248.0,2207.2 1251.0,2207.2 1254.1,2207.2 1257.1,2207.2 1260.1,2207.2 1263.2,2207.1 1266.2,2207.1 1269.3,2207.1 1272.3,2207.1 1275.3,2207.1 1278.4,2207.0 1281.4,2207.0 1284.5,2207.0 1287.5,2206.9 1290.5,2206.9 1293.6,2206.9 1296.6,2206.8 1299.7,2206.8 1302.7,2206.7 1305.7,2206.7 1308.8,2206.6 1311.8,2206.5 1314.9,2206.4 1317.9,2206.4 1320.9,2206.3 1324.0,2206.1 1327.0,2206.0 1330.1,2205.9 1333.1,2205.8 1336.1,2205.6 1339.2,2205.4 1342.2,2205.2 1345.3,2205.0 1348.3,2204.8 1351.3,2204.6 1354.4,2204.3 1357.4,2204.0 1360.4,2203.6 1363.4,2203.3 1366.4,2202.9 1369.4,2202.4 1372.4,2201.9 1375.5,2201.4 1378.5,2200.8 1381.5,2200.2 1384.5,2199.4 1387.5,2198.7 1390.5,2197.8 1393.5,2196.9 1396.5,2195.8 1399.5,2194.7 1402.5,2193.4 1405.5,2192.1 1408.5,2190.6 1411.5,2189.0 1414.5,2187.2 1417.6,2185.2 1420.6,2183.1 1423.6,2180.7 1426.6,2178.2 1429.6,2175.4 1432.6,2172.3 1435.6,2169.0 1438.6,2165.4 1441.6,2161.5 1444.6,2157.3 1447.6,2152.7 1450.6,2147.7 1453.6,2142.3 1456.7,2136.5 1459.7,2130.2 1462.7,2123.5 1465.7,2116.3 1468.7,2108.6 1471.7,2100.3 1474.7,2091.5 1477.7,2082.2 1480.7,2072.3 1483.7,2061.8 1486.8,2050.8 1489.8,2039.3 1492.8,2027.3 1495.8,2014.7 1498.8,2001.7 1501.9,1988.2 1504.9,1974.3 1507.9,1960.1 1510.9,1945.6 1513.9,1930.9 1516.9,1916.0 1520.0,1901.0 1523.0,1886.0 1526.0,1871.0 1529.0,1856.1 1532.0,1841.4 1535.0,1826.9 1538.1,1812.8 1541.1,1799.0 1544.1,1785.5 1547.1,1772.6 1550.1,1760.0 1553.2,1748.0 1556.2,1736.6 1559.2,1725.6 1562.2,1715.3 1565.2,1705.4 1568.2,1696.2 1571.3,1687.4 1574.3,1679.2 1577.3,1671.6 1580.3,1664.4 1583.3,1657.7 1586.3,1651.5 1589.4,1645.8 1592.4,1640.4 1595.4,1635.5 1598.4,1630.9 1601.4,1626.7 1604.4,1622.9 1607.4,1619.3 1610.4,1616.0 1613.4,1613.0 1616.5,1610.3 1619.5,1607.7 1622.5,1605.4 1625.5,1603.3 1628.5,1601.4 1631.5,1599.6 1634.5,1598.0 1637.5,1596.5 1640.5,1595.1 1643.5,1593.9 1646.5,1592.8 1649.5,1591.8 1652.5,1590.8 1655.5,1590.0 1658.6,1589.2 1661.6,1588.5 1664.6,1587.9 1667.6,1587.3 1670.6,1586.7 1673.6,1586.3 1676.6,1585.8 1679.6,1585.4 1682.6,1585.1 1685.6,1584.7 1688.6,1584.4 1691.6,1584.1 1694.6,1583.9 1697.7,1583.7 1700.7,1583.5 1703.7,1583.3 1706.7,1583.1 1709.7,1583.0 1712.7,1582.8 1715.7,1582.7" fill="none" stroke="#767676" stroke-width="3.2" stroke-linejoin="round"/>
<path d="M484.0,2120.0L536.0,2166.0M484.0,2166.0L536.0,2120.0" stroke="#c0c0c0" stroke-width="4" fill="none"/>
<path d="M954.7,1982.4L1008.7,2031.4M954.7,2031.4L1008.7,1982.4" stroke="#000" stroke-width="4.5" fill="none"/>
<path d="M1385.3,1929.9L1440.3,1981.9M1385.3,1981.9L1440.3,1929.9" stroke="#b2b6e2" stroke-width="5" fill="none"/>
<path d="M1490.5,1869.1L1548.5,1923.1M1490.5,1923.1L1548.5,1869.1" stroke="#727272" stroke-width="4.8" fill="none"/>
<path d="M508.6,2087.3V2213.6M499.1,2087.3H518.1M499.1,2213.6H518.1" stroke="#b4b4b4" stroke-width="2.4" fill="none"/>
<path d="M631.0,1998.3V2055.5M621.5,1998.3H640.5M621.5,2055.5H640.5" stroke="#b4b4b4" stroke-width="2.4" fill="none"/>
<path d="M751.0,1866.3V2003.3M741.5,1866.3H760.5M741.5,2003.3H760.5" stroke="#b4b4b4" stroke-width="2.4" fill="none"/>
<path d="M872.0,1838.9V1927.0M862.5,1838.9H881.5M862.5,1927.0H881.5" stroke="#b4b4b4" stroke-width="2.4" fill="none"/>
<path d="M991.8,1827.6V1896.2M982.3,1827.6H1001.3M982.3,1896.2H1001.3" stroke="#b4b4b4" stroke-width="2.4" fill="none"/>
<path d="M1112.0,1818.2V1882.3M1102.5,1818.2H1121.5M1102.5,1882.3H1121.5" stroke="#b4b4b4" stroke-width="2.4" fill="none"/>
<path d="M1234.0,1817.6V1863.5M1224.5,1817.6H1243.5M1224.5,1863.5H1243.5" stroke="#b4b4b4" stroke-width="2.4" fill="none"/>
<path d="M1355.3,1794.0V1855.6M1345.8,1794.0H1364.8M1345.8,1855.6H1364.8" stroke="#b4b4b4" stroke-width="2.4" fill="none"/>
<path d="M1475.3,1779.2V1843.3M1465.8,1779.2H1484.8M1465.8,1843.3H1484.8" stroke="#b4b4b4" stroke-width="2.4" fill="none"/>
<path d="M1595.7,1747.5V1778.9M1586.2,1747.5H1605.2M1586.2,1778.9H1605.2" stroke="#b4b4b4" stroke-width="2.4" fill="none"/>
<path d="M1715.7,1743.1V1774.5M1706.2,1743.1H1725.2M1706.2,1774.5H1725.2" stroke="#b4b4b4" stroke-width="2.4" fill="none"/>
<rect x="487.1" y="2129.0" width="43" height="43" fill="#c0c0c0"/>
<rect x="609.5" y="2005.4" width="43" height="43" fill="#c0c0c0"/>
<rect x="729.5" y="1913.3" width="43" height="43" fill="#c0c0c0"/>
<rect x="850.5" y="1861.5" width="43" height="43" fill="#c0c0c0"/>
<rect x="970.3" y="1840.4" width="43" height="43" fill="#c0c0c0"/>
<rect x="1090.5" y="1828.8" width="43" height="43" fill="#c0c0c0"/>
<rect x="1212.5" y="1819.0" width="43" height="43" fill="#c0c0c0"/>
<rect x="1333.8" y="1803.3" width="43" height="43" fill="#c0c0c0"/>
<rect x="1453.8" y="1789.8" width="43" height="43" fill="#c0c0c0"/>
<rect x="1574.2" y="1741.7" width="43" height="43" fill="#c0c0c0"/>
<rect x="1694.2" y="1737.3" width="43" height="43" fill="#c0c0c0"/>
<path d="M508.6,2257.0V2288.5M496.1,2257.0H521.1M496.1,2288.5H521.1" stroke="#000" stroke-width="3.6" fill="none"/>
<path d="M631.0,2262.4V2293.8M618.5,2262.4H643.5M618.5,2293.8H643.5" stroke="#000" stroke-width="3.6" fill="none"/>
<path d="M751.0,2159.3V2295.7M738.5,2159.3H763.5M738.5,2295.7H763.5" stroke="#000" stroke-width="3.6" fill="none"/>
<path d="M872.0,2111.2V2247.0M859.5,2111.2H884.5M859.5,2247.0H884.5" stroke="#000" stroke-width="3.6" fill="none"/>
<path d="M991.8,1911.6V1998.9M979.3,1911.6H1004.3M979.3,1998.9H1004.3" stroke="#000" stroke-width="3.6" fill="none"/>
<path d="M1112.0,1822.6V1895.5M1099.5,1822.6H1124.5M1099.5,1895.5H1124.5" stroke="#000" stroke-width="3.6" fill="none"/>
<path d="M1234.0,1776.7V1814.4M1221.5,1776.7H1246.5M1221.5,1814.4H1246.5" stroke="#000" stroke-width="3.6" fill="none"/>
<path d="M1355.3,1708.2V1800.6M1342.8,1708.2H1367.8M1342.8,1800.6H1367.8" stroke="#000" stroke-width="3.6" fill="none"/>
<path d="M1475.3,1695.0V1767.3M1462.8,1695.0H1487.8M1462.8,1767.3H1487.8" stroke="#000" stroke-width="3.6" fill="none"/>
<path d="M1595.7,1698.1V1735.8M1583.2,1698.1H1608.2M1583.2,1735.8H1608.2" stroke="#000" stroke-width="3.6" fill="none"/>
<path d="M1715.7,1692.5V1730.2M1703.2,1692.5H1728.2M1703.2,1730.2H1728.2" stroke="#000" stroke-width="3.6" fill="none"/>
<circle cx="508.6" cy="2272.7" r="23.0" fill="#000"/>
<circle cx="631.0" cy="2278.1" r="23.0" fill="#000"/>
<circle cx="751.0" cy="2227.5" r="23.0" fill="#000"/>
<circle cx="872.0" cy="2179.1" r="23.0" fill="#000"/>
<circle cx="991.8" cy="1955.3" r="23.0" fill="#000"/>
<circle cx="1112.0" cy="1859.1" r="23.0" fill="#000"/>
<circle cx="1234.0" cy="1795.6" r="23.0" fill="#000"/>
<circle cx="1355.3" cy="1754.4" r="23.0" fill="#000"/>
<circle cx="1475.3" cy="1731.1" r="23.0" fill="#000"/>
<circle cx="1595.7" cy="1717.0" r="23.0" fill="#000"/>
<circle cx="1715.7" cy="1711.3" r="23.0" fill="#000"/>
<path d="M508.6,2334.4V2394.7M499.1,2334.4H518.1M499.1,2394.7H518.1" stroke="#a6a8c4" stroke-width="2.4" fill="none"/>
<path d="M631.0,2312.7V2412.0M621.5,2312.7H640.5M621.5,2412.0H640.5" stroke="#a6a8c4" stroke-width="2.4" fill="none"/>
<path d="M751.0,2339.7V2364.8M741.5,2339.7H760.5M741.5,2364.8H760.5" stroke="#a6a8c4" stroke-width="2.4" fill="none"/>
<path d="M872.0,2348.2V2373.3M862.5,2348.2H881.5M862.5,2373.3H881.5" stroke="#a6a8c4" stroke-width="2.4" fill="none"/>
<path d="M991.8,2334.7V2440.3M982.3,2334.7H1001.3M982.3,2440.3H1001.3" stroke="#a6a8c4" stroke-width="2.4" fill="none"/>
<path d="M1112.0,2355.7V2419.2M1102.5,2355.7H1121.5M1102.5,2419.2H1121.5" stroke="#a6a8c4" stroke-width="2.4" fill="none"/>
<path d="M1234.0,2375.5V2456.6M1224.5,2375.5H1243.5M1224.5,2456.6H1243.5" stroke="#a6a8c4" stroke-width="2.4" fill="none"/>
<path d="M1355.3,2402.9V2473.0M1345.8,2402.9H1364.8" stroke="#a6a8c4" stroke-width="2.4" fill="none"/>
<path d="M1475.3,1415.5V1531.2M1465.8,1415.5H1484.8M1465.8,1531.2H1484.8" stroke="#a6a8c4" stroke-width="2.4" fill="none"/>
<path d="M1595.7,1483.4V1622.4M1586.2,1483.4H1605.2M1586.2,1622.4H1605.2" stroke="#a6a8c4" stroke-width="2.4" fill="none"/>
<path d="M1715.7,1577.1V1608.5M1706.2,1577.1H1725.2M1706.2,1608.5H1725.2" stroke="#a6a8c4" stroke-width="2.4" fill="none"/>
<path d="M508.6,2334.5L535.6,2379.5L481.6,2379.5Z" fill="#b4bbf2"/>
<path d="M631.0,2332.3L658.0,2377.3L604.0,2377.3Z" fill="#b4bbf2"/>
<path d="M751.0,2322.3L778.0,2367.3L724.0,2367.3Z" fill="#b4bbf2"/>
<path d="M872.0,2330.8L899.0,2375.8L845.0,2375.8Z" fill="#b4bbf2"/>
<path d="M991.8,2357.5L1018.8,2402.5L964.8,2402.5Z" fill="#b4bbf2"/>
<path d="M1112.0,2357.5L1139.0,2402.5L1085.0,2402.5Z" fill="#b4bbf2"/>
<path d="M1234.0,2386.1L1261.0,2431.1L1207.0,2431.1Z" fill="#b4bbf2"/>
<path d="M1355.3,2413.8L1382.3,2458.8L1328.3,2458.8Z" fill="#b4bbf2"/>
<path d="M1475.3,1443.4L1502.3,1488.4L1448.3,1488.4Z" fill="#b4bbf2"/>
<path d="M1595.7,1522.9L1622.7,1567.9L1568.7,1567.9Z" fill="#b4bbf2"/>
<path d="M1715.7,1562.8L1742.7,1607.8L1688.7,1607.8Z" fill="#b4bbf2"/>
<path d="M508.6,2122.2V2270.5M497.1,2122.2H520.1M497.1,2270.5H520.1" stroke="#7c7c7c" stroke-width="3" fill="none"/>
<path d="M631.0,2222.4V2277.1M619.5,2222.4H642.5M619.5,2277.1H642.5" stroke="#7c7c7c" stroke-width="3" fill="none"/>
<path d="M751.0,2198.6V2285.9M739.5,2198.6H762.5M739.5,2285.9H762.5" stroke="#7c7c7c" stroke-width="3" fill="none"/>
<path d="M872.0,2160.8V2253.9M860.5,2160.8H883.5M860.5,2253.9H883.5" stroke="#7c7c7c" stroke-width="3" fill="none"/>
<path d="M991.8,2170.3V2258.9M980.3,2170.3H1003.3M980.3,2258.9H1003.3" stroke="#7c7c7c" stroke-width="3" fill="none"/>
<path d="M1112.0,2143.5V2245.4M1100.5,2143.5H1123.5M1100.5,2245.4H1123.5" stroke="#7c7c7c" stroke-width="3" fill="none"/>
<path d="M1234.0,2139.1V2233.5M1222.5,2139.1H1245.5M1222.5,2233.5H1245.5" stroke="#7c7c7c" stroke-width="3" fill="none"/>
<path d="M1355.3,2106.8V2238.8M1343.8,2106.8H1366.8M1343.8,2238.8H1366.8" stroke="#7c7c7c" stroke-width="3" fill="none"/>
<path d="M1475.3,2022.8V2147.9M1463.8,2022.8H1486.8M1463.8,2147.9H1486.8" stroke="#7c7c7c" stroke-width="3" fill="none"/>
<path d="M1595.7,1575.2V1682.1M1584.2,1575.2H1607.2M1584.2,1682.1H1607.2" stroke="#7c7c7c" stroke-width="3" fill="none"/>
<path d="M1715.7,1535.6V1634.9M1704.2,1535.6H1727.2M1704.2,1634.9H1727.2" stroke="#7c7c7c" stroke-width="3" fill="none"/>
<path d="M508.6,2226.4L535.6,2181.4L481.6,2181.4Z" fill="#808080"/>
<path d="M631.0,2279.8L658.0,2234.8L604.0,2234.8Z" fill="#808080"/>
<path d="M751.0,2272.3L778.0,2227.3L724.0,2227.3Z" fill="#808080"/>
<path d="M872.0,2237.4L899.0,2192.4L845.0,2192.4Z" fill="#808080"/>
<path d="M991.8,2244.6L1018.8,2199.6L964.8,2199.6Z" fill="#808080"/>
<path d="M1112.0,2224.5L1139.0,2179.5L1085.0,2179.5Z" fill="#808080"/>
<path d="M1234.0,2216.3L1261.0,2171.3L1207.0,2171.3Z" fill="#808080"/>
<path d="M1355.3,2202.8L1382.3,2157.8L1328.3,2157.8Z" fill="#808080"/>
<path d="M1475.3,2115.4L1502.3,2070.4L1448.3,2070.4Z" fill="#808080"/>
<path d="M1595.7,1658.6L1622.7,1613.6L1568.7,1613.6Z" fill="#808080"/>
<path d="M1715.7,1615.3L1742.7,1570.3L1688.7,1570.3Z" fill="#808080"/>
<path d="M448.5,1341V2481M426.5,2475.2H1780.6" stroke="#000" stroke-width="3.6" fill="none" stroke-linecap="round"/>
<path d="M426.5,2475.2H448.5M438.0,2398.4H448.5M426.5,2319.8H448.5M438.0,2241.2H448.5M426.5,2162.7H448.5M438.0,2084.1H448.5M426.5,2005.5H448.5M438.0,1926.9H448.5M426.5,1848.3H448.5M438.0,1769.7H448.5M426.5,1691.1H448.5M438.0,1612.5H448.5M426.5,1534.0H448.5M438.0,1455.4H448.5M426.5,1376.8H448.5M508.6,2475.2V2500.2M631.0,2475.2V2487.2M751.0,2475.2V2500.2M872.0,2475.2V2487.2M991.8,2475.2V2500.2M1112.0,2475.2V2487.2M1234.0,2475.2V2500.2M1355.3,2475.2V2487.2M1475.3,2475.2V2500.2M1595.7,2475.2V2487.2M1715.7,2475.2V2500.2" stroke="#000" stroke-width="3.4" fill="none" stroke-linecap="round"/>
<text font-family="Liberation Sans, Arial, sans-serif" font-size="96.50" transform="translate(253.68,1399.96) scale(0.9700,1)" >350</text>
<text font-family="Liberation Sans, Arial, sans-serif" font-size="96.50" transform="translate(253.68,1559.06) scale(0.9700,1)" >300</text>
<text font-family="Liberation Sans, Arial, sans-serif" font-size="96.50" transform="translate(253.68,1715.66) scale(0.9700,1)" >250</text>
<text font-family="Liberation Sans, Arial, sans-serif" font-size="96.50" transform="translate(253.68,1872.16) scale(0.9700,1)" >200</text>
<text font-family="Liberation Sans, Arial, sans-serif" font-size="96.50" transform="translate(253.68,2031.96) scale(0.9700,1)" >150</text>
<text font-family="Liberation Sans, Arial, sans-serif" font-size="96.50" transform="translate(253.68,2187.66) scale(0.9700,1)" >100</text>
<text font-family="Liberation Sans, Arial, sans-serif" font-size="96.50" transform="translate(305.74,2343.26) scale(0.9700,1)" >50</text>
<text font-family="Liberation Sans, Arial, sans-serif" font-size="96.50" transform="translate(357.80,2504.46) scale(0.9700,1)" >0</text>
<text font-family="Liberation Sans, Arial, sans-serif" font-size="96.50" transform="translate(481.97,2584.50) scale(0.9700,1)" >2</text>
<text font-family="Liberation Sans, Arial, sans-serif" font-size="96.50" transform="translate(720.97,2584.50) scale(0.9700,1)" >4</text>
<text font-family="Liberation Sans, Arial, sans-serif" font-size="96.50" transform="translate(965.15,2583.56) scale(0.9700,1)" >6</text>
<text font-family="Liberation Sans, Arial, sans-serif" font-size="96.50" transform="translate(1205.47,2583.56) scale(0.9700,1)" >8</text>
<text font-family="Liberation Sans, Arial, sans-serif" font-size="96.50" transform="translate(1421.70,2583.56) scale(0.9700,1)" >10</text>
<text font-family="Liberation Sans, Arial, sans-serif" font-size="96.50" transform="translate(1664.33,2584.50) scale(0.9700,1)" >12</text>
<text font-family="Liberation Sans, Arial, sans-serif" font-size="97.39" transform="translate(1051.98,2684.40) scale(0.9431,1)" >pH</text>
<text font-family="Liberation Sans, Arial, sans-serif" font-size="100.00" transform="translate(222.8,1992.21) rotate(-90) scale(0.9151,1)">Hue</text>
<text font-family="Liberation Sans, Arial, sans-serif" font-size="73.11" transform="translate(749.46,1424.00) scale(1.0077,1)" >BG</text>
<text font-family="Liberation Sans, Arial, sans-serif" font-size="74.13" transform="translate(749.58,1516.50) scale(0.9730,1)" >BP</text>
<text font-family="Liberation Sans, Arial, sans-serif" font-size="74.13" transform="translate(748.35,1612.80) scale(0.9951,1)" >PR</text>
<text font-family="Liberation Sans, Arial, sans-serif" font-size="74.13" transform="translate(748.33,1704.60) scale(0.9978,1)" >Ph</text>
<rect x="622.8" y="1379.7" width="43" height="43" fill="#c0c0c0"/>
<circle cx="644.3" cy="1493.5" r="23.0" fill="#000"/>
<path d="M644.3,1557.7L670,1603.7L618.6,1603.7Z" fill="#b4bbf2"/>
<path d="M618.6,1660.8L670,1660.8L644.3,1712.8Z" fill="#808080"/>
</svg>
</body></html>
